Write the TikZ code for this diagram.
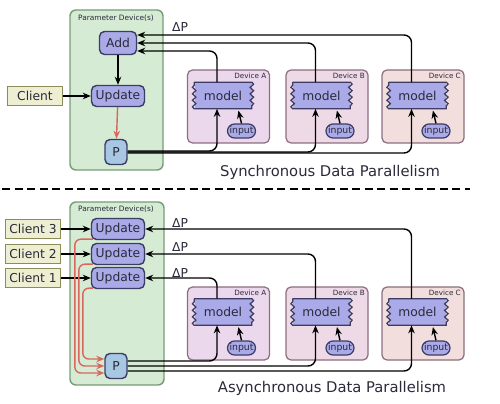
\documentclass[tikz,border=0pt]{standalone}
\usepackage{fontspec}
\setmainfont{DejaVu Sans}
\usepackage{tikz}
\usetikzlibrary{arrows.meta,calc,decorations.pathmorphing}
\definecolor{INK}{HTML}{2A2A3A}
\definecolor{PDF}{HTML}{D5EBD4}
\definecolor{PDE}{HTML}{769C76}
\definecolor{OPF}{HTML}{AAAAE8}
\definecolor{OPE}{HTML}{3C3C64}
\definecolor{PPF}{HTML}{A8C7E3}
\definecolor{CLF}{HTML}{EEEFD2}
\definecolor{CLE}{HTML}{8C8C5A}
\definecolor{DVA}{HTML}{ECD8EC}
\definecolor{DVB}{HTML}{EEDAE6}
\definecolor{DVC}{HTML}{F2DEDC}
\definecolor{DVE}{HTML}{8C6E80}
\definecolor{RED}{HTML}{D9675F}

\begin{document}
\begin{tikzpicture}[
    font=\fontsize{7}{8}\selectfont, text=INK,
    pdev/.style={draw=PDE, fill=PDF, line width=0.8pt, rounded corners=0.12cm},
    pdlbl/.style={font=\fontsize{4.2}{5}\selectfont},
    op/.style={draw=OPE, fill=OPF, line width=0.8pt, rounded corners=0.1cm, inner sep=0pt, minimum height=0.44cm},
    addn/.style={op, minimum width=0.74cm, minimum height=0.46cm},
    updn/.style={op, minimum width=1.06cm, minimum height=0.42cm},
    par/.style={op, fill=PPF, minimum width=0.44cm, minimum height=0.5cm},
    client/.style={draw=CLE, fill=CLF, line width=0.8pt, inner sep=0pt, minimum width=1.1cm, minimum height=0.38cm},
    dev/.style={draw=DVE, line width=0.7pt, rounded corners=0.1cm, minimum width=1.64cm, minimum height=1.46cm},
    devlbl/.style={font=\fontsize{4.1}{5}\selectfont, anchor=north east, inner sep=0pt},
    model/.style={fill=OPF, inner sep=0pt, minimum width=1.14cm, minimum height=0.52cm},
    waved/.style={draw=OPE, line width=0.7pt, decoration={snake, segment length=0.13cm, amplitude=0.035cm}},
    inp/.style={draw=OPE, fill=OPF, line width=0.7pt, rounded corners=0.14cm, inner sep=0pt, minimum width=0.56cm, minimum height=0.28cm, font=\fontsize{5.3}{6}\selectfont},
    arr/.style={-{Stealth[length=1.6mm, width=1.3mm]}, line width=0.8pt, black},
    redarr/.style={-{Stealth[length=1.6mm, width=1.3mm]}, line width=0.8pt, RED},
    dp/.style={font=\fontsize{7}{8}\selectfont},
    head/.style={font=\fontsize{8.4}{10}\selectfont},
  ]
  \useasboundingbox (0,0) rectangle (10,8.06);

  % ===== TOP: synchronous =====
  \draw[pdev] (1.40,7.86) rectangle (3.26,4.66);
  \node[pdlbl] at (2.32,7.70) {Parameter Device(s)};
  \node[addn] (add) at (2.36,7.20) {Add};
  \node[updn] (upd) at (2.36,6.14) {Update};
  \node[par] (pa) at (2.32,5.02) {P};
  \node[client] (cl) at (0.70,6.14) {Client};
  \draw[arr] (add) -- (upd);
  \draw[arr] (cl) -- (upd);
  \draw[redarr] (upd) -- (pa);
  \node[dp] at (3.60,7.52) {ΔP};

  % devices
  \foreach \d/\x in {A/4.57,B/6.54,C/8.46} {
    \node[dev, fill=DV\d] (s\d) at (\x,5.93) {};
    \node[devlbl] at ($(s\d.north east)+(-0.07,-0.06)$) {Device \d};
    \node[model] (sm\d) at ($(s\d)+(-0.11,0.22)$) {model};
    \draw[waved] (sm\d.north west) -- (sm\d.north east) decorate {-- (sm\d.south east)}
      -- (sm\d.south west) decorate {-- (sm\d.north west)};
    \node[inp] (si\d) at ($(s\d)+(0.26,-0.49)$) {input};
    \draw[arr, shorten >=1pt] (si\d.north) -- ($(sm\d.south)+(0.30,0)$);
  }
  % gradients back to Add
  \draw[arr, rounded corners=0.15cm] ($(smA.north)+(-0.12,0)$) |- ($(add.east)+(0,-0.16)$);
  \draw[arr, rounded corners=0.15cm] ($(smB.north)+(-0.12,0)$) |- (add.east);
  \draw[arr, rounded corners=0.15cm] ($(smC.north)+(-0.12,0)$) |- ($(add.east)+(0,0.16)$);
  % parameters out to models
  \draw[arr, rounded corners=0.15cm] ($(pa.east)+(0,0.02)$) -| ($(smA.south)+(-0.12,0)$);
  \draw[arr, rounded corners=0.15cm] (pa.east) -| ($(smB.south)+(-0.12,0)$);
  \draw[arr, rounded corners=0.15cm] ($(pa.east)+(0,-0.02)$) -| ($(smC.south)+(-0.12,0)$);

  \node[head] at (6.60,4.62) {Synchronous Data Parallelism};

  % divider
  \draw[line width=1.5pt, dash pattern=on 0.16cm off 0.09cm] (0.04,4.28) -- (9.40,4.28);

  % ===== BOTTOM: asynchronous =====
  \draw[pdev] (1.40,4.02) rectangle (3.28,0.36);
  \node[pdlbl] at (2.32,3.88) {Parameter Device(s)};
  \node[updn] (u3) at (2.36,3.48) {Update};
  \node[updn] (u2) at (2.36,2.98) {Update};
  \node[updn] (u1) at (2.36,2.50) {Update};
  \node[par] (pb) at (2.32,0.74) {P};
  \foreach \i/\y in {3/3.48,2/2.98,1/2.50} {
    \node[client] (c\i) at (0.66,\y) {Client \i};
    \draw[arr] (c\i) -- (u\i);
  }
  \node[dp] at (3.60,3.60) {ΔP};
  \node[dp] at (3.60,3.12) {ΔP};
  \node[dp] at (3.60,2.60) {ΔP};

  % updates feed P
  \draw[redarr, rounded corners=0.12cm] ($(u3.south west)+(0.04,0.02)$) -| ($(pb.west)+(-0.59,-0.14)$) -- ($(pb.west)+(0,-0.14)$);
  \draw[redarr, rounded corners=0.12cm] ($(u2.south west)+(0.04,0.02)$) -| ($(pb.west)+(-0.51,0)$) -- (pb.west);
  \draw[redarr, rounded corners=0.12cm] ($(u1.south west)+(0.04,0.02)$) -| ($(pb.west)+(-0.43,0.14)$) -- ($(pb.west)+(0,0.14)$);

  \foreach \d/\x in {A/4.57,B/6.54,C/8.46} {
    \node[dev, fill=DV\d] (t\d) at (\x,1.59) {};
    \node[devlbl] at ($(t\d.north east)+(-0.07,-0.06)$) {Device \d};
    \node[model] (tm\d) at ($(t\d)+(-0.11,0.23)$) {model};
    \draw[waved] (tm\d.north west) -- (tm\d.north east) decorate {-- (tm\d.south east)}
      -- (tm\d.south west) decorate {-- (tm\d.north west)};
    \node[inp] (ti\d) at ($(t\d)+(0.26,-0.49)$) {input};
    \draw[arr, shorten >=1pt] (ti\d.north) -- ($(tm\d.south)+(0.30,0)$);
  }
  \draw[arr, rounded corners=0.15cm] ($(tmA.north)+(-0.12,0)$) |- (u1.east);
  \draw[arr, rounded corners=0.15cm] ($(tmB.north)+(-0.12,0)$) |- (u2.east);
  \draw[arr, rounded corners=0.15cm] ($(tmC.north)+(-0.12,0)$) |- (u3.east);
  \draw[arr, rounded corners=0.15cm] ($(pb.east)+(0,0.10)$) -| ($(tmA.south)+(-0.12,0)$);
  \draw[arr, rounded corners=0.15cm] (pb.east) -| ($(tmB.south)+(-0.12,0)$);
  \draw[arr, rounded corners=0.15cm] ($(pb.east)+(0,-0.10)$) -| ($(tmC.south)+(-0.12,0)$);

  \node[head] at (6.64,0.30) {Asynchronous Data Parallelism};

\end{tikzpicture}
\end{document}
